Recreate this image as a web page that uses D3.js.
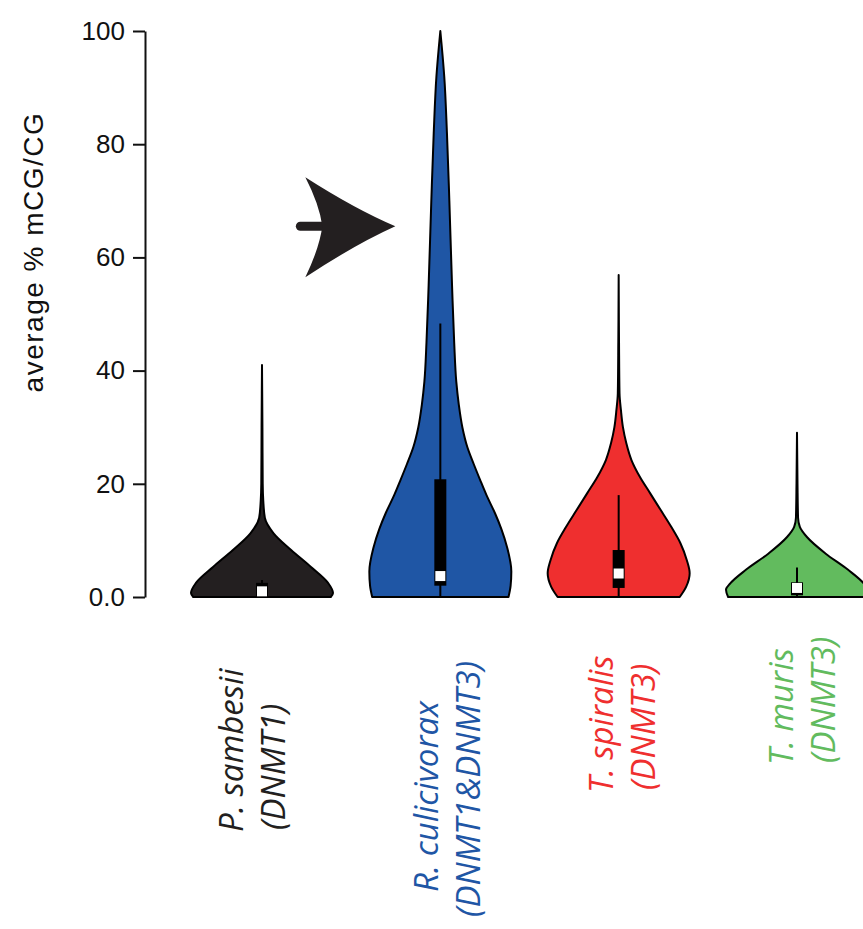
<!DOCTYPE html>
<html>
<head>
<meta charset="utf-8">
<script src="https://cdn.jsdelivr.net/npm/d3@7"></script>
<style>
  html, body { margin: 0; padding: 0; background: #fff; }
  svg { display: block; }
  .tick text { font-family: "Liberation Sans", Arial, sans-serif; font-size: 26px; fill: #111; }
</style>
</head>
<body>
<div id="chart"></div>
<script>
const species = ['P. sambesii', 'R. culicivorax', 'T. spiralis', 'T. muris'];
const enzymes = ['(DNMT1)', '(DNMT1&DNMT3)', '(DNMT3)', '(DNMT3)'];
const colors = ['#231f20', '#1f56a5', '#ef2f2f', '#62bb5e'];
const yTicks = [0, 20, 40, 60, 80, 100];

// density profiles: [value, relative half-width]
const sambesiiDensity = [
  [0, 0.97], [0.7, 1.0], [2.5, 0.93], [5.3, 0.69], [8.3, 0.41], [11.3, 0.16],
  [14, 0.04], [17, 0.018], [20, 0.01], [30, 0.006], [41, 0],
];
const culicivoraxDensity = [
  [0, 0.96], [2, 0.99], [4.5, 1.0], [8.8, 0.94], [12, 0.86], [14.8, 0.77],
  [18, 0.65], [20.7, 0.56], [23.5, 0.47], [26.5, 0.38], [30, 0.31], [34, 0.26],
  [38, 0.225], [45, 0.195], [55, 0.165], [70, 0.127], [82, 0.093], [92, 0.055], [100, 0],
];
const spiralisDensity = [
  [0, 0.86], [1.8, 0.95], [4.2, 1.0], [6.5, 0.96], [9.5, 0.87], [12.4, 0.74],
  [15.4, 0.59], [18.4, 0.44], [21.2, 0.3], [24.2, 0.18], [27.2, 0.107],
  [30, 0.06], [33, 0.032], [36, 0.012], [45, 0.005], [56.9, 0],
];
const murisDensity = [
  [0, 0.97], [1.3, 1.0], [2.4, 0.94], [4.8, 0.72], [7.7, 0.4], [10.6, 0.14],
  [12.4, 0.04], [14, 0.015], [20, 0.007], [29, 0],
];
const densities = [sambesiiDensity, culicivoraxDensity, spiralisDensity, murisDensity];

// box stats
const whiskerLow = [0, 0, 0, 0];
const whiskerHigh = [3, 48.3, 18, 5.2];
const q1 = [0.2, 2, 1.6, 0.3];
const q3 = [2.5, 20.8, 8.3, 2.6];
const medians = [1.0, 3.7, 4.15, 1.6];

const arrowValue = 65.5;

const width = 863, height = 929;
const margin = { top: 31, bottom: 332, left: 145 };

const svg = d3.select('#chart').append('svg')
  .attr('width', width).attr('height', height);

const y = d3.scaleLinear().domain([0, 100]).range([height - margin.bottom, margin.top]);
const x = d3.scalePoint().domain(species).range([262, 797]);
const w = d3.scaleLinear().domain([0, 1]).range([0, 71]);

// y axis
const yAxis = svg.append('g')
  .attr('transform', `translate(${margin.left},0)`)
  .call(d3.axisLeft(y).tickValues(yTicks).tickSize(12).tickPadding(8).tickSizeOuter(0)
    .tickFormat(d => d === 0 ? '0.0' : d));
yAxis.select('.domain').attr('stroke', '#111').attr('stroke-width', 2);
yAxis.selectAll('.tick line').attr('stroke', '#111').attr('stroke-width', 2);

// axis title sits higher than the axis middle in the original
svg.append('text')
  .attr('transform', 'translate(43, 252) rotate(-90)')
  .attr('text-anchor', 'middle')
  .style('font-family', '"Liberation Sans", Arial, sans-serif')
  .style('font-size', '28px')
  .style('letter-spacing', '1.5px')
  .attr('fill', '#111')
  .text('average % mCG/CG');

// violins
species.forEach((name, i) => {
  const cx = x(name);
  const area = d3.area()
    .curve(d3.curveMonotoneY)
    .y(d => y(d[0]))
    .x0(d => cx - w(d[1]))
    .x1(d => cx + w(d[1]));
  const g = svg.append('g');
  g.append('path')
    .attr('d', area(densities[i]))
    .attr('fill', colors[i])
    .attr('stroke', '#000')
    .attr('stroke-width', 2)
    .attr('stroke-linejoin', 'round');
  g.append('line')
    .attr('x1', cx).attr('x2', cx)
    .attr('y1', y(whiskerLow[i])).attr('y2', y(whiskerHigh[i]))
    .attr('stroke', '#000').attr('stroke-width', 2);
  g.append('rect')
    .attr('x', cx - 6).attr('width', 12)
    .attr('y', y(q3[i])).attr('height', y(q1[i]) - y(q3[i]))
    .attr('fill', '#000');
  g.append('rect')
    .attr('x', cx - 5).attr('width', 10)
    .attr('y', y(medians[i]) - 5).attr('height', 10)
    .attr('fill', '#fff');
});

// arrow pointing at the blue violin
const tipX = x(species[1]) - 45, tipY = y(arrowValue);
const arrow = svg.append('g').attr('transform', `translate(${tipX},${tipY})`);
arrow.append('line')
  .attr('x1', -95).attr('x2', -70).attr('y1', 0).attr('y2', 0)
  .attr('stroke', '#231f20').attr('stroke-width', 9).attr('stroke-linecap', 'round');
arrow.append('path')
  .attr('d', 'M0,0 Q-40,-17 -90,-49 Q-76,-22 -73,0 Q-76,22 -90,51 Q-40,18 0,0 Z')
  .attr('fill', '#231f20');

// category labels, placed by hand like the original
const labelDx = [-19, -2, -6, -4];
const line1Y = [832, 892, 793, 765];
const line2Y = [830, 917, 790, 763];
species.forEach((name, i) => {
  const bx = x(name) + labelDx[i];
  [[name, line1Y[i], 0], [enzymes[i], line2Y[i], 42]].forEach(([txt, ly, dx]) => {
    svg.append('text')
      .attr('transform', `translate(${bx + dx},${ly}) rotate(-90)`)
      .attr('text-anchor', 'start')
      .style('font-family', '"Open Sans", "Noto Sans", sans-serif')
      .style('font-style', 'italic')
      .style('font-size', '33px')
      .attr('fill', colors[i])
      .text(txt);
  });
});
</script>
</body>
</html>
